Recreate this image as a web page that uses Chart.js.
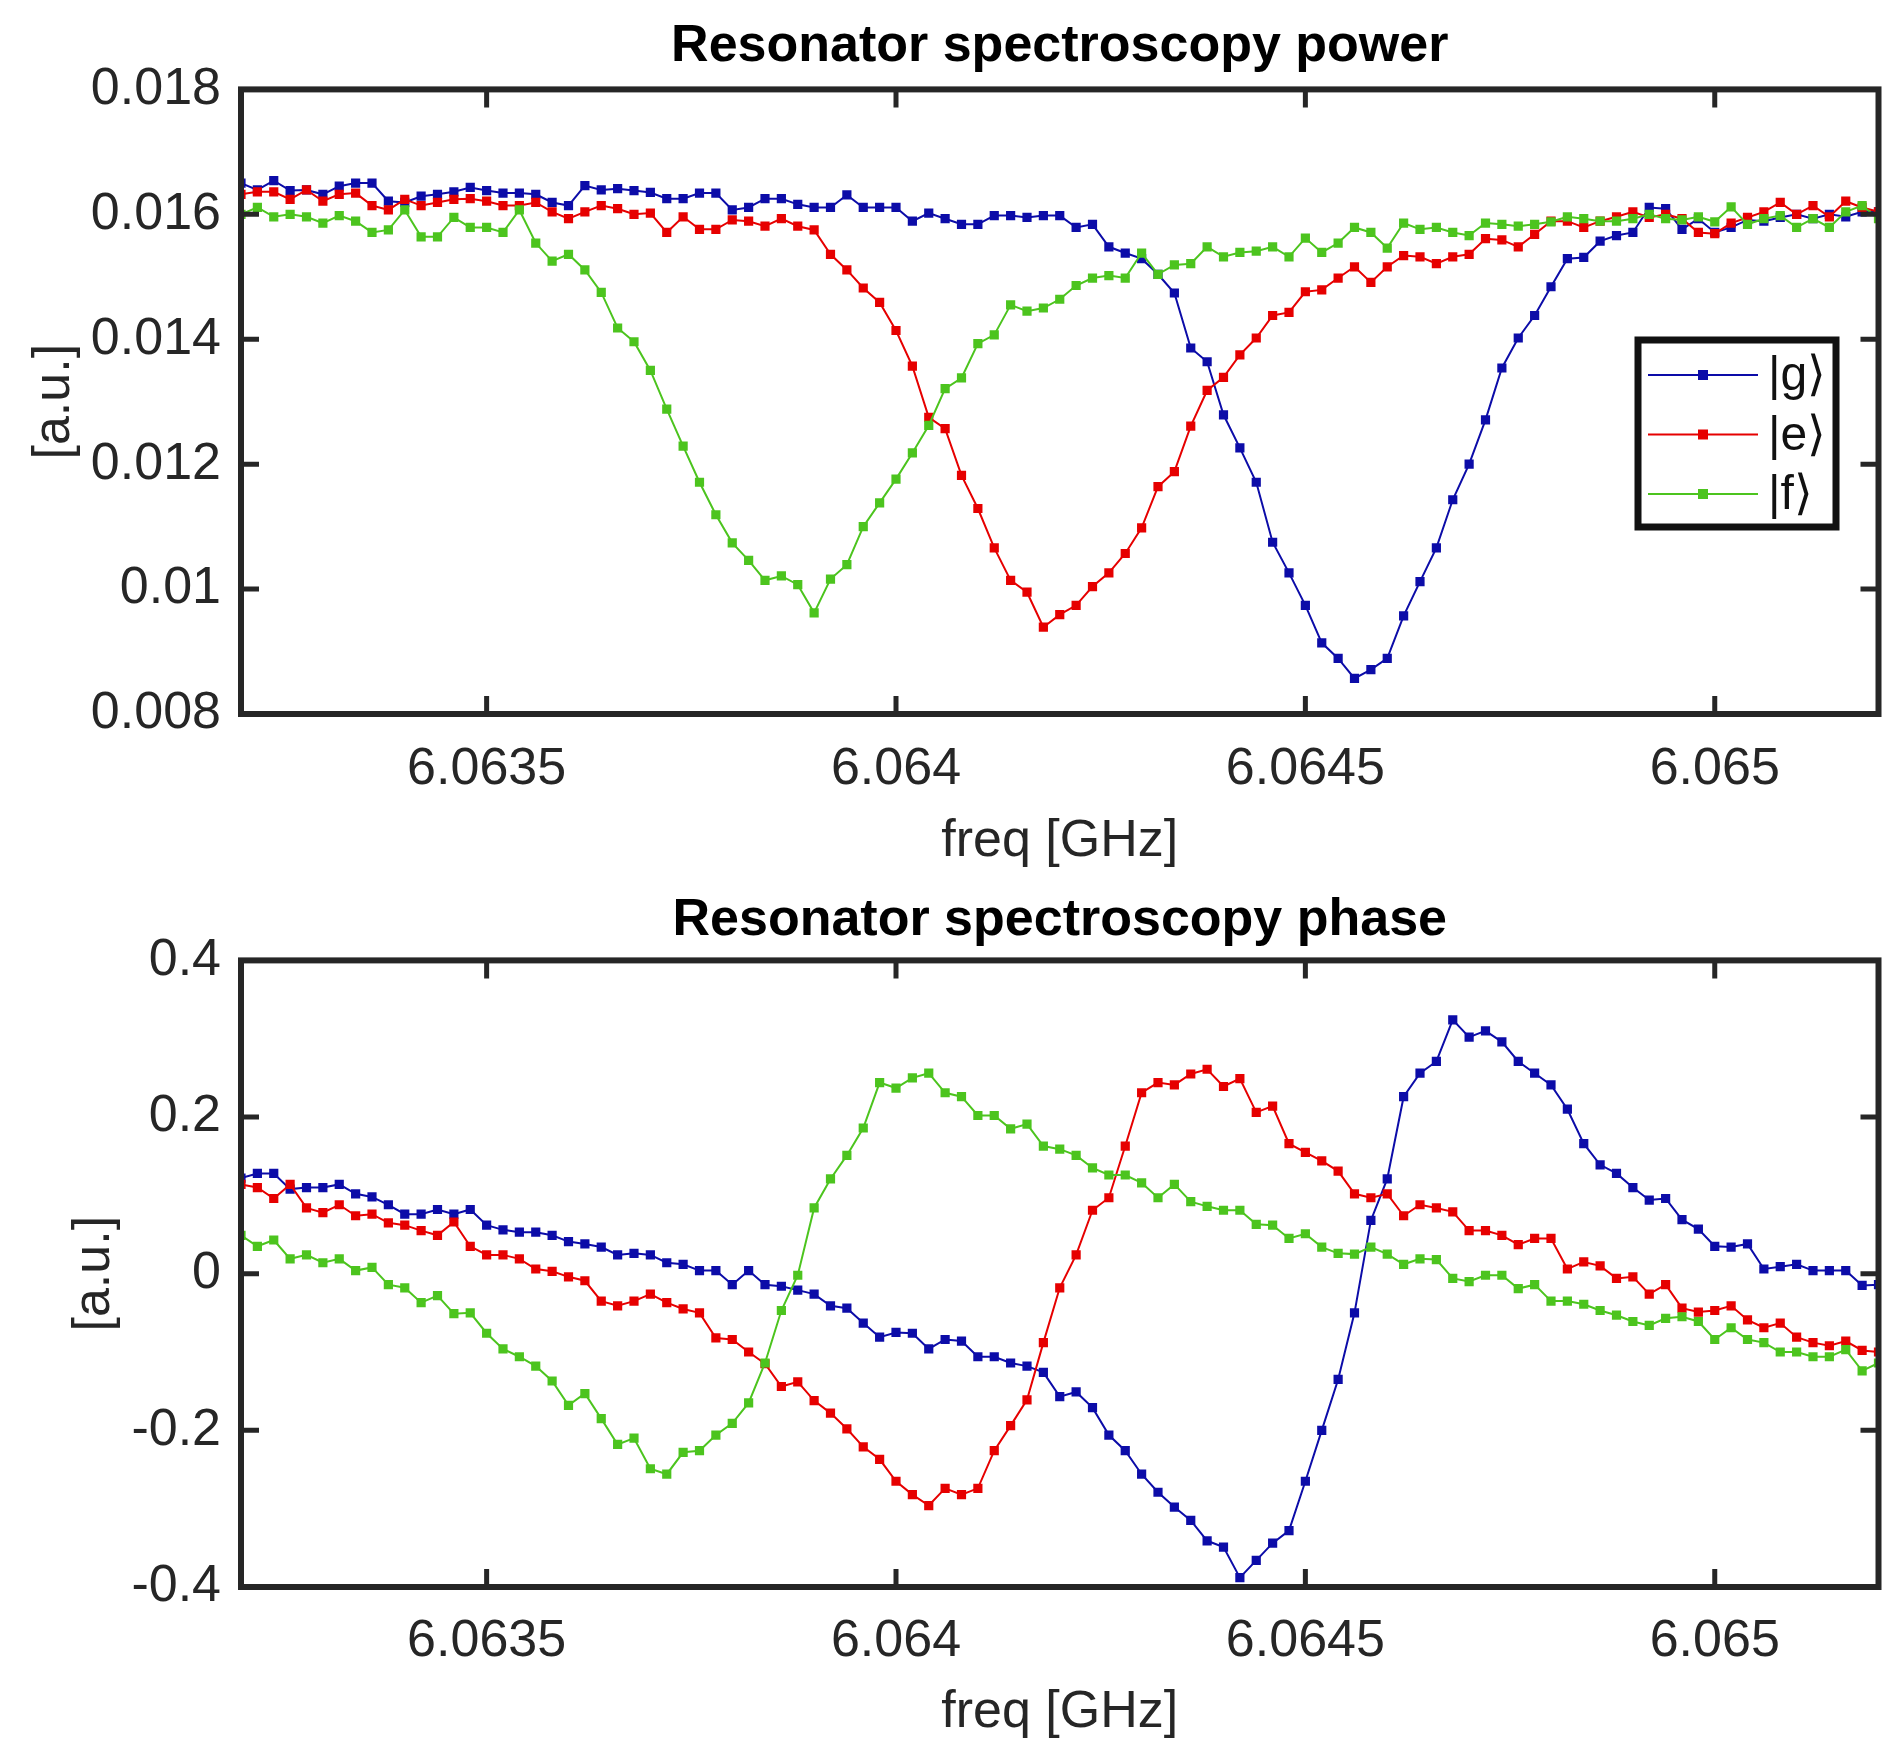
<!DOCTYPE html>
<html>
<head>
<meta charset="utf-8">
<script src="https://cdn.jsdelivr.net/npm/chart.js@4.4.1/dist/chart.umd.min.js"></script>
<style>
  body { margin: 0; background: #fff; }
  .plot { position: absolute; left: 0; width: 1885px; }
</style>
</head>
<body>
<div class="plot" style="top:0;height:880px"><canvas id="powerChart" width="1885" height="880"></canvas></div>
<div class="plot" style="top:880px;height:864px"><canvas id="phaseChart" width="1885" height="864"></canvas></div>
<script>
// frequency sweep [GHz]
const freqGHz = [
  6.06320, 6.06322, 6.06324, 6.06326, 6.06328, 6.06330, 6.06332, 6.06334, 6.06336, 6.06338,
  6.06340, 6.06342, 6.06344, 6.06346, 6.06348, 6.06350, 6.06352, 6.06354, 6.06356, 6.06358,
  6.06360, 6.06362, 6.06364, 6.06366, 6.06368, 6.06370, 6.06372, 6.06374, 6.06376, 6.06378,
  6.06380, 6.06382, 6.06384, 6.06386, 6.06388, 6.06390, 6.06392, 6.06394, 6.06396, 6.06398,
  6.06400, 6.06402, 6.06404, 6.06406, 6.06408, 6.06410, 6.06412, 6.06414, 6.06416, 6.06418,
  6.06420, 6.06422, 6.06424, 6.06426, 6.06428, 6.06430, 6.06432, 6.06434, 6.06436, 6.06438,
  6.06440, 6.06442, 6.06444, 6.06446, 6.06448, 6.06450, 6.06452, 6.06454, 6.06456, 6.06458,
  6.06460, 6.06462, 6.06464, 6.06466, 6.06468, 6.06470, 6.06472, 6.06474, 6.06476, 6.06478,
  6.06480, 6.06482, 6.06484, 6.06486, 6.06488, 6.06490, 6.06492, 6.06494, 6.06496, 6.06498,
  6.06500, 6.06502, 6.06504, 6.06506, 6.06508, 6.06510, 6.06512, 6.06514, 6.06516, 6.06518,
  6.06520
];

// power [a.u.]
const powerG = [
  0.01650, 0.01639, 0.01654, 0.01638, 0.01639, 0.01632, 0.01645, 0.01650, 0.01650, 0.01621,
  0.01619, 0.01629, 0.01632, 0.01636, 0.01643, 0.01638, 0.01634, 0.01634, 0.01632, 0.01619,
  0.01614, 0.01646, 0.01639, 0.01641, 0.01638, 0.01635, 0.01625, 0.01625, 0.01634, 0.01634,
  0.01607, 0.01611, 0.01625, 0.01625, 0.01616, 0.01611, 0.01611, 0.01631, 0.01611, 0.01611,
  0.01611, 0.01589, 0.01602, 0.01593, 0.01584, 0.01584, 0.01598, 0.01598, 0.01595, 0.01598,
  0.01598, 0.01579, 0.01584, 0.01548, 0.01538, 0.01529, 0.01504, 0.01474, 0.01386, 0.01364,
  0.01279, 0.01226, 0.01171, 0.01075, 0.01026, 0.00974, 0.00914, 0.00889, 0.00857, 0.00871,
  0.00889, 0.00957, 0.01012, 0.01066, 0.01143, 0.01200, 0.01271, 0.01354, 0.01402, 0.01438,
  0.01484, 0.01529, 0.01531, 0.01557, 0.01566, 0.01571, 0.01611, 0.01609, 0.01576, 0.01593,
  0.01571, 0.01579, 0.01591, 0.01589, 0.01595, 0.01600, 0.01593, 0.01600, 0.01596, 0.01604,
  0.01604
];
const powerE = [
  0.01632, 0.01636, 0.01636, 0.01624, 0.01639, 0.01621, 0.01632, 0.01634, 0.01614, 0.01607,
  0.01624, 0.01614, 0.01619, 0.01624, 0.01625, 0.01621, 0.01614, 0.01614, 0.01619, 0.01604,
  0.01593, 0.01604, 0.01614, 0.01609, 0.01600, 0.01602, 0.01571, 0.01596, 0.01576, 0.01576,
  0.01591, 0.01589, 0.01581, 0.01593, 0.01581, 0.01575, 0.01536, 0.01511, 0.01482, 0.01459,
  0.01414, 0.01357, 0.01275, 0.01257, 0.01182, 0.01129, 0.01066, 0.01014, 0.00995, 0.00939,
  0.00959, 0.00974, 0.01004, 0.01026, 0.01057, 0.01098, 0.01164, 0.01188, 0.01261, 0.01318,
  0.01339, 0.01375, 0.01402, 0.01438, 0.01443, 0.01476, 0.01479, 0.01498, 0.01516, 0.01491,
  0.01516, 0.01534, 0.01532, 0.01521, 0.01532, 0.01536, 0.01561, 0.01559, 0.01548, 0.01568,
  0.01589, 0.01589, 0.01579, 0.01589, 0.01596, 0.01604, 0.01595, 0.01600, 0.01593, 0.01571,
  0.01569, 0.01586, 0.01595, 0.01604, 0.01619, 0.01600, 0.01614, 0.01596, 0.01621, 0.01611,
  0.01604
];
const powerF = [
  0.01600, 0.01611, 0.01596, 0.01600, 0.01596, 0.01586, 0.01598, 0.01589, 0.01571, 0.01575,
  0.01607, 0.01564, 0.01564, 0.01595, 0.01579, 0.01579, 0.01571, 0.01607, 0.01554, 0.01525,
  0.01536, 0.01511, 0.01475, 0.01418, 0.01396, 0.01350, 0.01288, 0.01229, 0.01171, 0.01119,
  0.01074, 0.01046, 0.01014, 0.01021, 0.01007, 0.00962, 0.01016, 0.01039, 0.01100, 0.01138,
  0.01176, 0.01218, 0.01262, 0.01321, 0.01338, 0.01393, 0.01407, 0.01455, 0.01445, 0.01450,
  0.01464, 0.01486, 0.01498, 0.01502, 0.01498, 0.01538, 0.01504, 0.01519, 0.01521, 0.01548,
  0.01532, 0.01539, 0.01541, 0.01548, 0.01532, 0.01562, 0.01539, 0.01554, 0.01579, 0.01571,
  0.01546, 0.01586, 0.01576, 0.01579, 0.01571, 0.01566, 0.01586, 0.01584, 0.01581, 0.01584,
  0.01588, 0.01596, 0.01593, 0.01589, 0.01589, 0.01593, 0.01600, 0.01593, 0.01591, 0.01596,
  0.01588, 0.01612, 0.01584, 0.01593, 0.01598, 0.01579, 0.01593, 0.01579, 0.01604, 0.01614,
  0.01593
];

// phase [a.u.]
const phaseG = [
  0.122, 0.128, 0.128, 0.108, 0.110, 0.110, 0.114, 0.102, 0.098, 0.088,
  0.076, 0.076, 0.082, 0.076, 0.082, 0.062, 0.056, 0.053, 0.053, 0.049,
  0.041, 0.038, 0.034, 0.024, 0.026, 0.024, 0.014, 0.012, 0.004, 0.004,
  -0.014, 0.004, -0.014, -0.016, -0.021, -0.026, -0.041, -0.044, -0.063, -0.081,
  -0.075, -0.076, -0.096, -0.084, -0.086, -0.106, -0.106, -0.114, -0.118, -0.126,
  -0.157, -0.151, -0.171, -0.206, -0.226, -0.256, -0.279, -0.298, -0.315, -0.341,
  -0.349, -0.388, -0.366, -0.344, -0.328, -0.265, -0.200, -0.135, -0.050, 0.068,
  0.121, 0.226, 0.256, 0.271, 0.324, 0.302, 0.310, 0.296, 0.271, 0.256,
  0.241, 0.210, 0.166, 0.139, 0.128, 0.110, 0.094, 0.096, 0.069, 0.057,
  0.035, 0.034, 0.038, 0.006, 0.009, 0.012, 0.004, 0.004, 0.004, -0.015,
  -0.014
];
const phaseE = [
  0.114, 0.110, 0.096, 0.114, 0.084, 0.078, 0.088, 0.074, 0.076, 0.065,
  0.062, 0.055, 0.049, 0.066, 0.035, 0.024, 0.024, 0.019, 0.006, 0.003,
  -0.004, -0.009, -0.035, -0.041, -0.035, -0.026, -0.037, -0.045, -0.050, -0.082,
  -0.084, -0.100, -0.115, -0.144, -0.138, -0.162, -0.178, -0.198, -0.221, -0.237,
  -0.265, -0.282, -0.296, -0.274, -0.282, -0.274, -0.226, -0.194, -0.161, -0.088,
  -0.018, 0.024, 0.081, 0.097, 0.163, 0.231, 0.244, 0.241, 0.255, 0.261,
  0.239, 0.249, 0.206, 0.214, 0.166, 0.155, 0.144, 0.131, 0.102, 0.097,
  0.102, 0.074, 0.088, 0.084, 0.079, 0.055, 0.055, 0.049, 0.037, 0.045,
  0.045, 0.006, 0.015, 0.010, -0.006, -0.004, -0.026, -0.014, -0.044, -0.049,
  -0.047, -0.041, -0.059, -0.069, -0.063, -0.081, -0.088, -0.092, -0.086, -0.098,
  -0.100
];
const phaseF = [
  0.049, 0.035, 0.043, 0.019, 0.024, 0.014, 0.019, 0.004, 0.008, -0.014,
  -0.018, -0.037, -0.028, -0.051, -0.050, -0.076, -0.096, -0.106, -0.118, -0.137,
  -0.168, -0.153, -0.185, -0.218, -0.210, -0.249, -0.256, -0.228, -0.226, -0.206,
  -0.191, -0.165, -0.114, -0.047, -0.002, 0.084, 0.121, 0.151, 0.186, 0.244,
  0.237, 0.250, 0.256, 0.231, 0.226, 0.202, 0.202, 0.185, 0.191, 0.163,
  0.159, 0.151, 0.135, 0.126, 0.126, 0.116, 0.097, 0.114, 0.092, 0.086,
  0.081, 0.081, 0.063, 0.062, 0.045, 0.051, 0.034, 0.026, 0.025, 0.034,
  0.025, 0.012, 0.019, 0.018, -0.006, -0.010, -0.002, -0.002, -0.019, -0.014,
  -0.035, -0.035, -0.039, -0.047, -0.053, -0.061, -0.066, -0.057, -0.055, -0.061,
  -0.084, -0.069, -0.084, -0.088, -0.100, -0.100, -0.106, -0.106, -0.097, -0.124,
  -0.114
];

const stateLabels = ['|g\u27E9', '|e\u27E9', '|f\u27E9'];
const xTicks = [6.0635, 6.064, 6.0645, 6.065];
const xTickLabels = ['6.0635', '6.064', '6.0645', '6.065'];
const powerTicks = [0.008, 0.010, 0.012, 0.014, 0.016, 0.018];
const powerTickLabels = ['0.008', '0.01', '0.012', '0.014', '0.016', '0.018'];
const phaseTicks = [-0.4, -0.2, 0, 0.2, 0.4];
const phaseTickLabels = ['-0.4', '-0.2', '0', '0.2', '0.4'];

const colors = ['#0c0ca8', '#e60000', '#4cc41e'];
const axisColor = '#262626';
const fontFamily = "'Liberation Sans', Arial, Helvetica, sans-serif";
const labelSize = 52;

// MATLAB-like box with inward ticks on all four sides
const matlabFrame = {
  id: 'matlabFrame',
  afterDatasetsDraw(chart) {
    const { ctx, chartArea: a, scales } = chart;
    const tickLen = 18;
    ctx.save();
    ctx.strokeStyle = axisColor;
    ctx.lineWidth = 5;
    ctx.beginPath();
    scales.x.ticks.forEach(t => {
      const px = scales.x.getPixelForValue(t.value);
      ctx.moveTo(px, a.bottom); ctx.lineTo(px, a.bottom - tickLen);
      ctx.moveTo(px, a.top); ctx.lineTo(px, a.top + tickLen);
    });
    scales.y.ticks.forEach(t => {
      const py = scales.y.getPixelForValue(t.value);
      if (py <= a.top + 2 || py >= a.bottom - 2) return;
      ctx.moveTo(a.left, py); ctx.lineTo(a.left + tickLen, py);
      ctx.moveTo(a.right, py); ctx.lineTo(a.right - tickLen, py);
    });
    ctx.stroke();
    ctx.lineWidth = 6;
    ctx.strokeRect(a.left, a.top, a.right - a.left, a.bottom - a.top);
    ctx.restore();
  }
};

// legend box inside the power axes
const stateLegend = {
  id: 'stateLegend',
  afterDraw(chart) {
    const { ctx } = chart;
    const box = { left: 1638, top: 340, right: 1836, bottom: 527 };
    ctx.save();
    ctx.fillStyle = '#fff';
    ctx.fillRect(box.left, box.top, box.right - box.left, box.bottom - box.top);
    ctx.font = '48px ' + fontFamily;
    ctx.textBaseline = 'middle';
    ctx.textAlign = 'left';
    chart.data.datasets.forEach((ds, k) => {
      const y = box.top + 35 + k * 59.5;
      ctx.strokeStyle = ds.borderColor;
      ctx.lineWidth = 2;
      ctx.beginPath();
      ctx.moveTo(box.left + 10, y); ctx.lineTo(box.left + 120, y);
      ctx.stroke();
      ctx.fillStyle = ds.borderColor;
      ctx.fillRect(box.left + 60, y - 5, 10, 10);
      ctx.fillStyle = '#111';
      ctx.fillText(ds.label, box.left + 130, y + 2);
    });
    ctx.strokeStyle = '#111';
    ctx.lineWidth = 7;
    ctx.strokeRect(box.left, box.top, box.right - box.left, box.bottom - box.top);
    ctx.restore();
  }
};

function makeDatasets(series) {
  return series.map((vals, k) => ({
    label: stateLabels[k],
    data: freqGHz.map((f, i) => ({ x: f, y: vals[i] })),
    borderColor: colors[k],
    backgroundColor: colors[k],
    borderWidth: 2,
    pointStyle: 'rect',
    pointRadius: 6.5,
    pointBorderWidth: 0,
    pointBackgroundColor: colors[k],
    tension: 0,
    order: 2 - k
  }));
}

function makeOptions(cfg) {
  return {
    responsive: false,
    devicePixelRatio: 1,
    animation: false,
    events: [],
    layout: { padding: { left: 0, right: 4, top: 0, bottom: 0 } },
    plugins: {
      legend: { display: false },
      tooltip: { enabled: false },
      title: {
        display: true,
        text: cfg.title,
        fullSize: false,
        color: '#000',
        font: { family: fontFamily, size: 52, weight: 'bold' },
        padding: cfg.titlePad
      }
    },
    scales: {
      x: {
        type: 'linear',
        min: 6.0632,
        max: 6.0652,
        grid: { display: false, drawTicks: false },
        border: { display: false },
        afterBuildTicks: s => { s.ticks = xTicks.map(v => ({ value: v })); },
        afterFit: s => { s.height = cfg.xHeight; },
        ticks: {
          autoSkip: false, maxRotation: 0, padding: cfg.xTickPad,
          color: axisColor, font: { family: fontFamily, size: labelSize },
          callback: (v, i) => xTickLabels[i]
        },
        title: {
          display: true, text: 'freq [GHz]', color: axisColor,
          font: { family: fontFamily, size: labelSize },
          padding: { top: 0, bottom: cfg.xTitlePad }
        }
      },
      y: {
        type: 'linear',
        min: cfg.yMin,
        max: cfg.yMax,
        grid: { display: false, drawTicks: false },
        border: { display: false },
        afterBuildTicks: s => { s.ticks = cfg.yTicks.map(v => ({ value: v })); },
        afterFit: s => { s.width = 241; },
        ticks: {
          autoSkip: false, padding: 20,
          color: axisColor, font: { family: fontFamily, size: labelSize },
          callback: (v, i) => cfg.yTickLabels[i]
        },
        title: {
          display: true, text: '[a.u.]', color: axisColor,
          font: { family: fontFamily, size: labelSize },
          padding: { top: cfg.yTitlePad, bottom: 0 }
        }
      }
    }
  };
}

new Chart(document.getElementById('powerChart'), {
  type: 'line',
  data: { datasets: makeDatasets([powerG, powerE, powerF]) },
  options: makeOptions({
    title: 'Resonator spectroscopy power',
    titlePad: { top: 15, bottom: 12 },
    xHeight: 166, xTickPad: 24, xTitlePad: 7,
    yMin: 0.008, yMax: 0.018, yTicks: powerTicks, yTickLabels: powerTickLabels,
    yTitlePad: 23
  }),
  plugins: [matlabFrame, stateLegend]
});

new Chart(document.getElementById('phaseChart'), {
  type: 'line',
  data: { datasets: makeDatasets([phaseG, phaseE, phaseF]) },
  options: makeOptions({
    title: 'Resonator spectroscopy phase',
    titlePad: { top: 9, bottom: 9 },
    xHeight: 157, xTickPad: 23, xTitlePad: 0,
    yMin: -0.4, yMax: 0.4, yTicks: phaseTicks, yTickLabels: phaseTickLabels,
    yTitlePad: 63
  }),
  plugins: [matlabFrame]
});
</script>
</body>
</html>
